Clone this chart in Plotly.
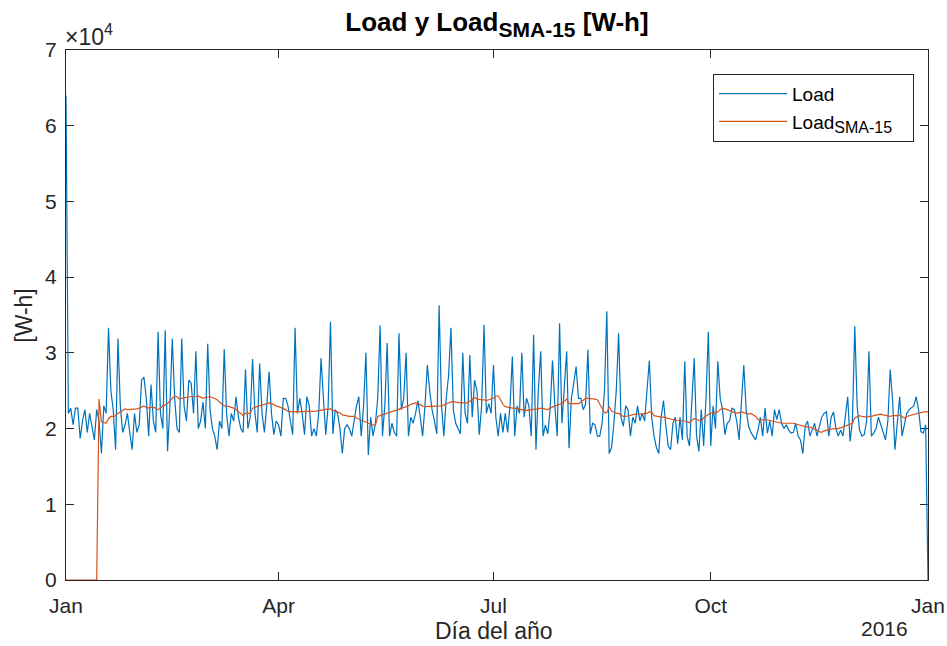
import pandas as pd
import plotly.graph_objects as go

# daily load, units of 10^4 W-h, 2015-01-01 .. 2016-01-01
load = [
    6.4, 2.2, 2.27, 2.05, 2.27, 2.27, 1.87, 2.1, 2.25, 1.95,
    2.2, 2.0, 1.85, 2.25, 2.1, 1.67, 2.3, 2.2, 3.33, 2.5,
    2.25, 1.72, 3.19, 2.3, 1.95, 2.05, 2.2, 1.95, 1.72, 2.2,
    1.95, 2.05, 2.64, 2.68, 2.4, 1.9, 2.58, 2.1, 1.95, 3.28,
    2.2, 2.0, 3.3, 1.7, 2.3, 3.19, 2.4, 2.0, 1.95, 3.19,
    2.3, 2.1, 2.64, 2.6, 2.2, 3.02, 2.0, 2.1, 2.35, 2.0,
    3.12, 2.25, 2.0, 1.9, 1.72, 2.1, 2.0, 3.05, 2.2, 1.9,
    2.2, 2.1, 2.42, 2.15, 2.0, 1.95, 2.78, 2.0, 2.15, 2.92,
    2.2, 1.95, 2.86, 2.2, 1.95, 2.3, 2.75, 2.2, 1.92, 2.1,
    2.05, 1.9, 2.4, 2.4, 2.3, 2.1, 1.92, 3.33, 2.2, 2.4,
    2.2, 1.92, 2.42, 2.3, 1.9, 2.0, 1.9, 2.2, 2.93, 2.4,
    1.92, 2.3, 3.41, 1.93, 2.25, 2.2, 2.0, 1.67, 2.0, 2.05,
    2.0, 1.9, 2.1, 2.3, 2.42, 1.9, 2.3, 3.0, 1.65, 2.15,
    1.9, 2.07, 2.4, 3.36, 1.9, 2.3, 3.13, 1.9, 2.07, 1.95,
    1.9, 3.26, 2.25, 2.4, 3.0, 1.9, 2.15, 2.07, 2.2, 2.37,
    2.15, 1.9, 2.3, 2.84, 2.5, 2.25, 2.1, 1.93, 3.63, 2.3,
    1.9, 2.4, 2.7, 3.33, 2.25, 2.07, 2.0, 1.93, 3.0, 2.2,
    2.07, 2.97, 2.15, 2.64, 2.5, 1.92, 2.3, 3.37, 2.2, 2.33,
    2.2, 2.84, 2.15, 1.9, 2.2, 1.95, 2.2, 1.95, 2.3, 2.95,
    1.9, 2.3, 2.2, 3.0, 2.15, 2.4, 2.3, 1.9, 3.24, 1.72,
    2.5, 3.02, 1.9, 2.05, 1.93, 2.25, 2.9, 2.3, 1.9, 3.39,
    2.07, 2.5, 3.02, 1.74, 2.4, 2.6, 2.82, 2.4, 2.4, 2.25,
    2.32, 3.04, 1.93, 2.07, 2.05, 1.9, 1.9, 2.07, 2.5, 3.55,
    1.67, 1.75, 2.07, 2.5, 3.26, 2.15, 2.03, 2.3, 2.25, 1.9,
    2.15, 2.07, 2.3, 2.1, 2.2, 2.1, 2.5, 2.9, 2.15, 1.9,
    1.75, 1.67, 2.15, 2.37, 2.03, 1.77, 1.72, 2.07, 2.15, 1.8,
    2.15, 1.85, 2.89, 1.9, 1.77, 2.4, 2.93, 1.9, 1.7, 2.25,
    1.77, 2.4, 3.28, 1.77, 2.3, 2.0, 2.89, 2.4, 2.25, 1.92,
    2.07, 2.1, 2.27, 2.25, 2.1, 1.85, 2.3, 2.84, 2.25, 2.03,
    1.95, 1.9, 1.85, 1.98, 2.15, 1.9, 2.27, 1.94, 2.1, 1.9,
    2.25, 2.12, 2.25, 2.07, 2.0, 2.05, 1.98, 1.94, 1.95, 2.07,
    1.9, 1.85, 1.67, 2.03, 2.1, 1.9, 2.0, 2.07, 1.9, 2.03,
    2.15, 2.2, 2.22, 1.9, 2.15, 2.22, 2.0, 1.9, 1.98, 1.9,
    2.2, 2.42, 1.83, 2.1, 3.35, 2.3, 1.98, 1.9, 1.92, 2.1,
    3.02, 1.9, 1.94, 2.0, 2.15, 2.05, 1.95, 1.85, 2.1, 2.78,
    2.37, 1.72, 2.07, 2.42, 1.9, 2.07, 2.2, 2.25, 2.27, 2.3,
    2.42, 2.25, 1.96, 1.94, 2.05, 0.0,
]

# 15-day simple moving average as drawn (zero until day 15)
load_sma15 = [
    0, 0, 0, 0, 0, 0, 0, 0, 0, 0,
    0, 0, 0, 0, 2.39, 2.09, 2.08, 2.07, 2.13, 2.16,
    2.16, 2.17, 2.2, 2.22, 2.25, 2.26, 2.25, 2.25, 2.25, 2.26,
    2.26, 2.27, 2.28, 2.3, 2.28, 2.27, 2.28, 2.28, 2.27, 2.25,
    2.27, 2.3, 2.31, 2.33, 2.37, 2.4, 2.43, 2.42, 2.39, 2.4,
    2.41, 2.41, 2.42, 2.42, 2.42, 2.42, 2.43, 2.42, 2.4, 2.41,
    2.42, 2.42, 2.41, 2.4, 2.38, 2.35, 2.32, 2.3, 2.3, 2.29,
    2.29, 2.27, 2.25, 2.23, 2.2, 2.17, 2.2, 2.2, 2.2, 2.27,
    2.28, 2.29, 2.3, 2.3, 2.31, 2.33, 2.34, 2.33, 2.31, 2.3,
    2.29, 2.28, 2.26, 2.25, 2.23, 2.22, 2.22, 2.22, 2.22, 2.23,
    2.23, 2.23, 2.23, 2.23, 2.23, 2.23, 2.23, 2.24, 2.24, 2.25,
    2.25, 2.26, 2.26, 2.24, 2.23, 2.22, 2.21, 2.18, 2.17, 2.16,
    2.16, 2.16, 2.16, 2.14, 2.12, 2.11, 2.1, 2.08, 2.07, 2.06,
    2.05, 2.04, 2.16, 2.17, 2.18, 2.19, 2.2, 2.21, 2.22, 2.23,
    2.24, 2.25, 2.26, 2.27, 2.28, 2.3, 2.32, 2.33, 2.34, 2.33,
    2.31, 2.3, 2.29, 2.29, 2.3, 2.3, 2.29, 2.29, 2.29, 2.3,
    2.31, 2.33, 2.34, 2.35, 2.36, 2.35, 2.34, 2.34, 2.34, 2.34,
    2.34, 2.36, 2.38, 2.41, 2.39, 2.38, 2.38, 2.38, 2.37, 2.38,
    2.39, 2.4, 2.43, 2.43, 2.38, 2.32, 2.29, 2.28, 2.27, 2.27,
    2.27, 2.26, 2.25, 2.24, 2.24, 2.24, 2.24, 2.25, 2.25, 2.26,
    2.26, 2.27, 2.26, 2.25, 2.25, 2.27, 2.29, 2.3, 2.31, 2.32,
    2.33, 2.36, 2.39, 2.33, 2.33, 2.33, 2.32, 2.33, 2.35, 2.38,
    2.4, 2.4, 2.4, 2.4, 2.39, 2.38, 2.32, 2.25, 2.21, 2.21,
    2.29, 2.23, 2.21, 2.2, 2.2, 2.18, 2.16, 2.16, 2.17, 2.17,
    2.18, 2.19, 2.19, 2.19, 2.19, 2.2, 2.2, 2.22, 2.22, 2.17,
    2.16, 2.15, 2.15, 2.15, 2.14, 2.14, 2.13, 2.12, 2.11, 2.11,
    2.1, 2.1, 2.1, 2.09, 2.08, 2.11, 2.13, 2.12, 2.11, 2.1,
    2.14, 2.17, 2.19, 2.2, 2.21, 2.22, 2.22, 2.25, 2.27, 2.26,
    2.25, 2.24, 2.23, 2.21, 2.2, 2.21, 2.22, 2.21, 2.2, 2.19,
    2.2, 2.18, 2.16, 2.12, 2.11, 2.12, 2.12, 2.11, 2.11, 2.1,
    2.09, 2.08, 2.07, 2.07, 2.07, 2.07, 2.07, 2.07, 2.07, 2.06,
    2.05, 2.05, 2.04, 2.03, 2.02, 2.02, 2.01, 2.0, 1.98, 1.96,
    1.95, 1.97, 1.98, 1.99, 1.99, 2.0, 2.0, 2.0, 2.01, 2.02,
    2.03, 2.04, 2.05, 2.07, 2.14, 2.16, 2.17, 2.16, 2.15, 2.15,
    2.16, 2.16, 2.17, 2.18, 2.18, 2.19, 2.18, 2.17, 2.16, 2.16,
    2.17, 2.17, 2.17, 2.18, 2.16, 2.14, 2.16, 2.17, 2.18, 2.19,
    2.2, 2.2, 2.21, 2.22, 2.22, 2.22,
]

month_ticks = ["2015-01-01", "2015-04-01", "2015-07-01", "2015-10-01", "2016-01-01"]
month_labels = ["Jan", "Apr", "Jul", "Oct", "Jan"]
y_ticks = [0, 1, 2, 3, 4, 5, 6, 7]

days = pd.date_range("2015-01-01", periods=len(load), freq="D")

FONT = "Liberation Sans, Arial, Helvetica, sans-serif"
INK = "#262626"
PAD = "\u00a0" * 3  # a little room after the longest legend entry

fig = go.Figure()
fig.add_trace(go.Scatter(x=days, y=load, mode="lines", name="Load",
                         line=dict(color="#0072BD", width=1.2)))
fig.add_trace(go.Scatter(x=days, y=load_sma15, mode="lines",
                         name='Load<sub><span style="font-size:16px">SMA-15</span></sub>' + PAD,
                         line=dict(color="#D95319", width=1.2), cliponaxis=False))

fig.update_layout(
    width=947, height=646,
    margin=dict(l=66, r=19, t=50, b=66),
    paper_bgcolor="white", plot_bgcolor="white",
    font=dict(family=FONT, size=21, color=INK),
    showlegend=True,
    legend=dict(x=0.7506, y=0.955, xanchor="left", yanchor="top",
                bgcolor="white", bordercolor=INK, borderwidth=1,
                font=dict(size=19, color="#000000"), tracegroupgap=0,
                itemwidth=68),
    title=dict(text='<b>Load y Load<sub><span style="font-size:21px">SMA-15</span></sub> [W-h]</b>',
               x=0.5248, xanchor="center", y=0.9795, yanchor="top",
               font=dict(size=26, color="#000000")),
)

fig.update_xaxes(
    range=[month_ticks[0], month_ticks[-1]],
    tickvals=month_ticks, ticktext=month_labels,
    ticks="inside", ticklen=8, tickcolor=INK, tickwidth=1,
    showline=True, linecolor=INK, linewidth=1, mirror="ticks",
    showgrid=False, zeroline=False, layer="below traces",
    ticklabelstandoff=7, automargin=False, ticklabeloverflow="allow",
)
fig.update_yaxes(
    range=[0, 7], tickvals=y_ticks, ticktext=[str(v) for v in y_ticks],
    ticks="inside", ticklen=8, tickcolor=INK, tickwidth=1,
    showline=True, linecolor=INK, linewidth=1, mirror="ticks",
    showgrid=False, zeroline=False, layer="below traces",
    ticklabelstandoff=4, automargin=False,
)

# MATLAB-style exponent, secondary date label and axis labels
fig.add_annotation(text="\u00d710<sup>4</sup>", xref="paper", yref="paper",
                   x=-0.003, y=0.996, xanchor="left", yanchor="bottom",
                   showarrow=False, font=dict(size=23, color=INK))
fig.add_annotation(text="2016", xref="paper", yref="paper",
                   x=0.949, y=-0.0906, xanchor="center", yanchor="middle",
                   showarrow=False, font=dict(size=21, color=INK))
fig.add_annotation(text="Día del año", xref="paper", yref="paper",
                   x=0.4965, y=-0.0962, xanchor="center", yanchor="middle",
                   showarrow=False, font=dict(size=23, color=INK))
fig.add_annotation(text="[W-h]", xref="paper", yref="paper",
                   x=-0.049, y=0.5, xanchor="center", yanchor="middle",
                   textangle=-90, showarrow=False, font=dict(size=23, color=INK))

# drop the default 8px page margin so the 947x646 figure fills the window
fig.write_html("out.html",
               config={"displayModeBar": False},
               post_script="document.body.style.margin='0';"
                           "document.body.style.overflow='hidden';")
